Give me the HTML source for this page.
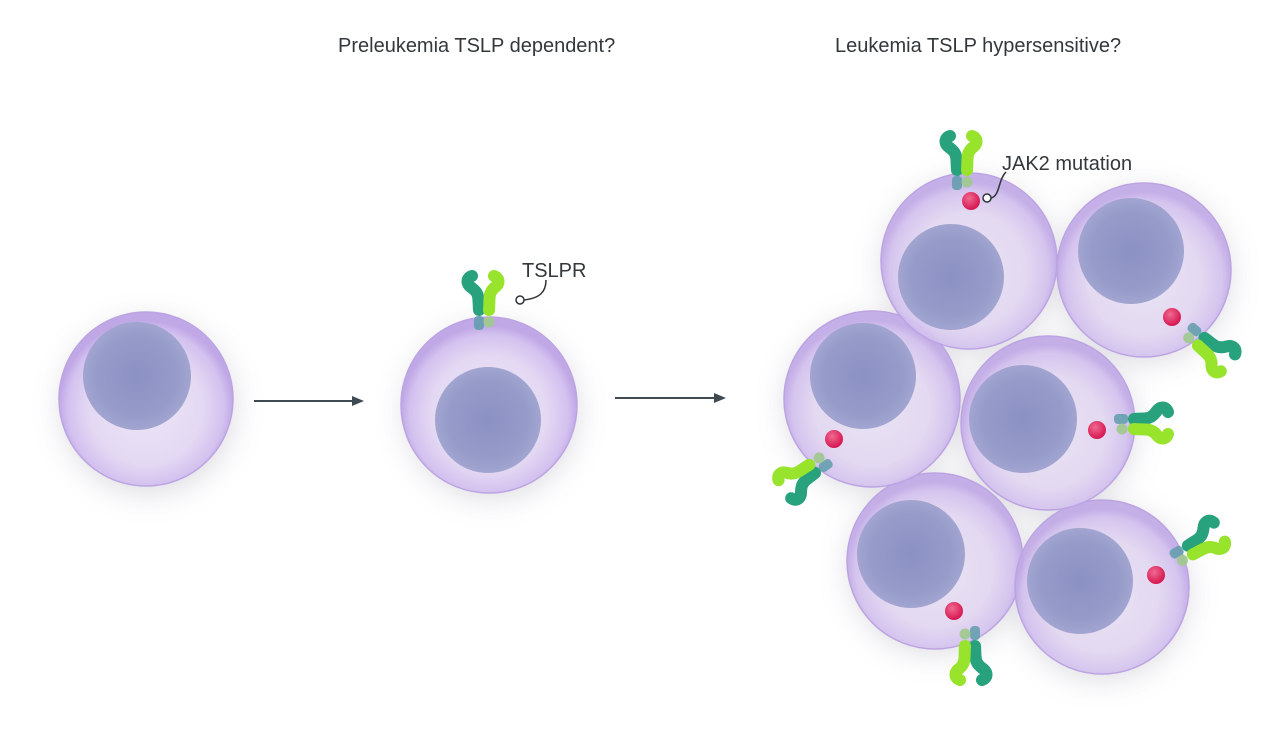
<!DOCTYPE html>
<html><head><meta charset="utf-8"><style>
html,body{margin:0;padding:0;background:#fff;}
svg{display:block;}
text{font-family:"Liberation Sans",sans-serif;fill:#33383d;}
</style></head><body>
<svg width="1280" height="754" viewBox="0 0 1280 754" xmlns="http://www.w3.org/2000/svg">
<defs>
<radialGradient id="cell" cx="50%" cy="55%" r="50%">
<stop offset="0%" stop-color="#ece5f7"/>
<stop offset="65%" stop-color="#e4d9f3"/>
<stop offset="90%" stop-color="#d3c1ef"/>
<stop offset="100%" stop-color="#c0a8e6"/>
</radialGradient>
<radialGradient id="nuc" cx="50%" cy="50%" r="50%">
<stop offset="0%" stop-color="#8b91c3"/>
<stop offset="75%" stop-color="#969bc9"/>
<stop offset="100%" stop-color="#a2a5d0"/>
</radialGradient>
<radialGradient id="pink" cx="40%" cy="35%" r="60%">
<stop offset="0%" stop-color="#f06a90"/>
<stop offset="100%" stop-color="#d81b55"/>
</radialGradient>
<filter id="sh" x="-50%" y="-50%" width="200%" height="200%"><feGaussianBlur stdDeviation="16"/></filter>
<g id="rec">
<rect x="-10" y="-6" width="10" height="14" rx="4" fill="#5f9cab" opacity=".85"/>
<circle cx="5" cy="0" r="5.5" fill="#9fc98c" opacity=".9"/>
<path d="M-5,-12 C-6,-24 -4,-28 -12,-34 C-18,-38 -18,-44 -12,-46" stroke="#28a27c" stroke-width="12" fill="none" stroke-linecap="round" stroke-linejoin="round"/>
<path d="M5,-12 C6,-24 4,-28 10,-34 C16,-38 16,-44 10,-46" stroke="#98e32c" stroke-width="12" fill="none" stroke-linecap="round" stroke-linejoin="round"/>
</g>
</defs>

<g fill="#8e8ca0" opacity=".35" filter="url(#sh)">
<circle cx="148" cy="407" r="84"/>
<circle cx="491" cy="412" r="84"/>
<circle cx="969" cy="267" r="84"/><circle cx="1144" cy="276" r="84"/>
<circle cx="872" cy="405" r="84"/><circle cx="1048" cy="429" r="84"/>
<circle cx="935" cy="567" r="84"/><circle cx="1102" cy="593" r="84"/>
</g>

<g stroke="#bca4e3" stroke-width="1.5">
<circle cx="146" cy="399" r="87" fill="url(#cell)"/>
<circle cx="137" cy="376" r="54" fill="url(#nuc)" stroke="none"/>
<circle cx="489" cy="405" r="88" fill="url(#cell)"/>
<circle cx="488" cy="420" r="53" fill="url(#nuc)" stroke="none"/>

<circle cx="935" cy="561" r="88" fill="url(#cell)" fill-opacity=".9"/>
<circle cx="911" cy="554" r="54" fill="url(#nuc)" stroke="none"/>
<circle cx="1102" cy="587" r="87" fill="url(#cell)" fill-opacity=".9"/>
<circle cx="1080" cy="581" r="53" fill="url(#nuc)" stroke="none"/>
<circle cx="872" cy="399" r="88" fill="url(#cell)" fill-opacity=".9"/>
<circle cx="863" cy="376" r="53" fill="url(#nuc)" stroke="none"/>
<circle cx="1048" cy="423" r="87" fill="url(#cell)" fill-opacity=".9"/>
<circle cx="1023" cy="419" r="54" fill="url(#nuc)" stroke="none"/>
<circle cx="1144" cy="270" r="87" fill="url(#cell)" fill-opacity=".9"/>
<circle cx="1131" cy="251" r="53" fill="url(#nuc)" stroke="none"/>
<circle cx="969" cy="261" r="88" fill="url(#cell)" fill-opacity=".9"/>
<circle cx="951" cy="277" r="53" fill="url(#nuc)" stroke="none"/>
</g>

<!-- arrows -->
<g stroke="#3f4a52" stroke-width="2" fill="#3f4a52">
<line x1="254" y1="401" x2="354" y2="401"/><path d="M364,401 L352,396 L352,406 Z" stroke="none"/>
<line x1="615" y1="398" x2="716" y2="398"/><path d="M726,398 L714,393 L714,403 Z" stroke="none"/>
</g>

<!-- receptors -->
<use href="#rec" transform="translate(484,322)"/>
<use href="#rec" transform="translate(962,182)"/>
<circle cx="971" cy="201" r="9" fill="url(#pink)"/>
<use href="#rec" transform="translate(1192,334) rotate(130)"/>
<circle cx="1172" cy="317" r="9" fill="url(#pink)"/>
<use href="#rec" transform="translate(822,462) rotate(-125)"/>
<circle cx="834" cy="439" r="9" fill="url(#pink)"/>
<use href="#rec" transform="translate(1122,424) rotate(90)"/>
<circle cx="1097" cy="430" r="9" fill="url(#pink)"/>
<use href="#rec" transform="translate(970,634) rotate(180)"/>
<circle cx="954" cy="611" r="9" fill="url(#pink)"/>
<use href="#rec" transform="translate(1180,556) rotate(60)"/>
<circle cx="1156" cy="575" r="9" fill="url(#pink)"/>

<!-- callouts -->
<path d="M524,300 C540,298 546,292 546,280" stroke="#2f3439" stroke-width="1.5" fill="none"/>
<circle cx="520" cy="300" r="4" fill="#fff" stroke="#2f3439" stroke-width="1.5"/>
<path d="M991,198 C1000,196 998,180 1006,172" stroke="#2f3439" stroke-width="1.5" fill="none"/>
<circle cx="987" cy="198" r="4" fill="#fff" stroke="#2f3439" stroke-width="1.5"/>

<text x="338" y="52" font-size="20">Preleukemia TSLP dependent?</text>
<text x="835" y="52" font-size="20">Leukemia TSLP hypersensitive?</text>
<text x="522" y="277" font-size="20">TSLPR</text>
<text x="1002" y="170" font-size="20">JAK2 mutation</text>
</svg>
</body></html>
